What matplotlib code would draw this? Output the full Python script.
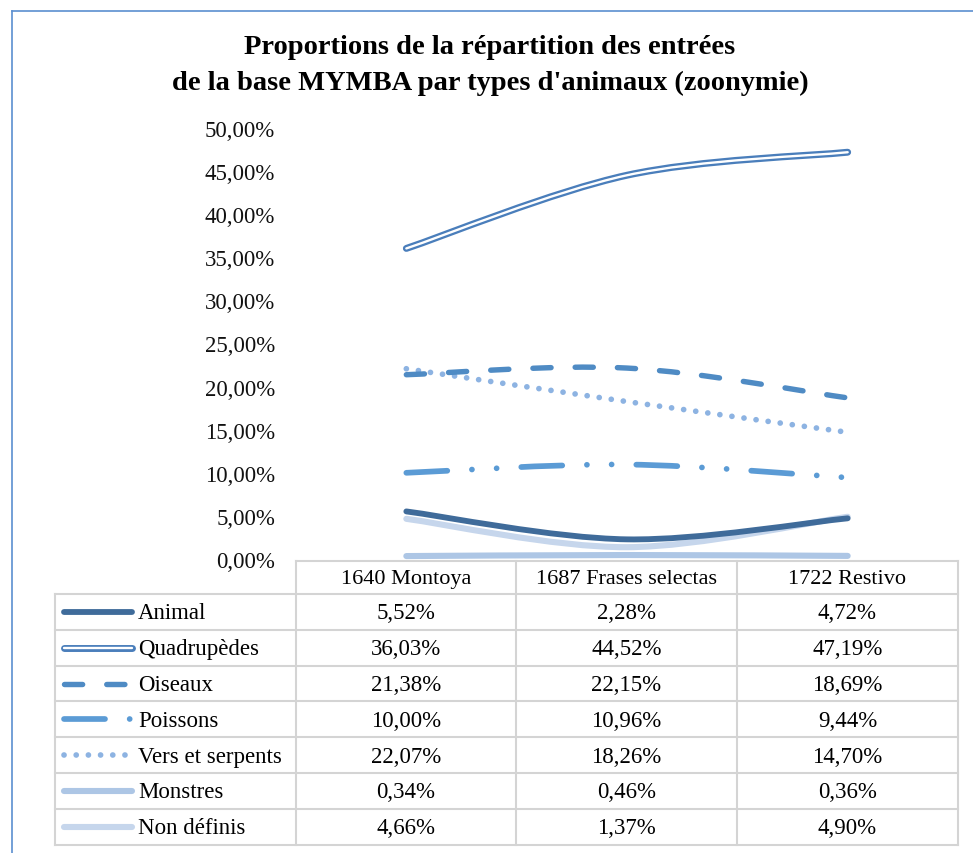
import matplotlib
matplotlib.use("Agg")
from matplotlib import pyplot as plt
from matplotlib.path import Path
from matplotlib.patches import PathPatch
from matplotlib.lines import Line2D

plt.rcParams['font.family'] = ['Liberation Serif', 'DejaVu Serif']

# données
categories = ['1640 Montoya', '1687 Frases selectas', '1722 Restivo']
series = ['Animal', 'Quadrupèdes', 'Oiseaux', 'Poissons', 'Vers et serpents', 'Monstres', 'Non définis']
animal = [5.52, 2.28, 4.72]
quadrupedes = [36.03, 44.52, 47.19]
oiseaux = [21.38, 22.15, 18.69]
poissons = [10.00, 10.96, 9.44]
vers = [22.07, 18.26, 14.70]
monstres = [0.34, 0.46, 0.36]
non_definis = [4.66, 1.37, 4.90]
yticks = [0, 5, 10, 15, 20, 25, 30, 35, 40, 45, 50]

valeurs = [animal, quadrupedes, oiseaux, poissons, vers, monstres, non_definis]

# styles (couleur, largeur, tirets)
styles = [
    dict(color='#3f6b9a', lw=4.2, ls='-'),
    dict(color='#4a7ebb', lw=5.0, ls='-'),
    dict(color='#4f8bc4', lw=3.9, ls=(0, (3.35, 4.45))),
    dict(color='#5b9bd5', lw=4.1, ls=(0, (7.2, 4.33, 0.01, 4.33, 0.01, 4.33))),
    dict(color='#8db3e2', lw=4.1, ls=(0, (0.01, 2.13))),
    dict(color='#adc6e5', lw=4.4, ls='-'),
    dict(color='#c6d6ec', lw=4.4, ls='-'),
]

W, H = 973, 854
fig = plt.figure(figsize=(W / 100, H / 100), dpi=100)


def fx(px):
    return px / W


def fy(py):
    return 1 - py / H


def pct(v):
    return ('%.2f' % v).replace('.', ',') + '%'


# cadre bleu
fig.add_artist(Line2D([fx(12), fx(12)], [fy(12), 0], color='#5b8fd0', lw=1.2))
fig.add_artist(Line2D([fx(12), 1], [fy(12), fy(12)], color='#5b8fd0', lw=1.2))

fig.text(fx(490), fy(48), "Proportions de la répartition des entrées",
         ha='center', va='center', fontsize=20.5, fontweight='bold')
fig.text(fx(490), fy(83), "de la base MYMBA par types d'animaux (zoonymie)",
         ha='center', va='center', fontsize=20.5, fontweight='bold')

# graphique
ax = fig.add_axes([fx(296), fy(560), fx(958) - fx(296), fy(129) - fy(560)])
ax.set_xlim(-0.5, 2.5)
ax.set_ylim(0, 50)
for s in ax.spines.values():
    s.set_visible(False)
ax.set_xticks([])
ax.set_yticks(yticks)
ax.set_yticklabels([pct(v) for v in yticks])
ax.tick_params(axis='y', length=0, pad=15, labelsize=16.5, labelcolor='#111111')


def courbe(vals):
    # Bézier lissée type Excel
    pts = list(zip(range(len(vals)), vals))
    verts = [pts[0]]
    codes = [Path.MOVETO]
    n = len(pts)
    for i in range(n - 1):
        p0 = pts[max(i - 1, 0)]
        p1 = pts[i]
        p2 = pts[i + 1]
        p3 = pts[min(i + 2, n - 1)]
        c1 = (p1[0] + (p2[0] - p0[0]) / 6, p1[1] + (p2[1] - p0[1]) / 6)
        c2 = (p2[0] - (p3[0] - p1[0]) / 6, p2[1] - (p3[1] - p1[1]) / 6)
        verts += [c1, c2, p2]
        codes += [Path.CURVE4] * 3
    return Path(verts, codes)


ordre = [6, 5, 0, 4, 3, 2, 1]
for k in ordre:
    st = styles[k]
    p = courbe(valeurs[k])
    ax.add_patch(PathPatch(p, fill=False, edgecolor=st['color'], lw=st['lw'], linestyle=st['ls'],
                           capstyle='round', joinstyle='round', clip_on=False))
    if k == 1:
        ax.add_patch(PathPatch(p, fill=False, edgecolor='white', lw=1.7, capstyle='round', clip_on=False))

# tableau de données
tx = fig.add_axes([0, 0, 1, 1])
tx.set_xlim(0, W)
tx.set_ylim(H, 0)
tx.axis('off')
grid = '#d4d4d4'
x_cols = [55, 296, 516, 737, 958]
y_top = 562
y_head = 595
row_h = 35.8
y_rows = [y_head + i * row_h for i in range(len(series) + 1)]

tx.plot([296, 958], [y_top, y_top], color=grid, lw=1.5)
for y in y_rows:
    tx.plot([55, 958], [y, y], color=grid, lw=1.5)
tx.plot([55, 55], [y_head, y_rows[-1]], color=grid, lw=1.5)
for x in x_cols[1:]:
    tx.plot([x, x], [y_top, y_rows[-1]], color=grid, lw=1.5)

for j, c in enumerate(categories):
    tx.text((x_cols[j + 1] + x_cols[j + 2]) / 2, (y_top + y_head) / 2 + 1, c,
            ha='center', va='center', fontsize=16)

for i, name in enumerate(series):
    yc = (y_rows[i] + y_rows[i + 1]) / 2
    st = styles[i]
    tx.add_line(Line2D([64, 132], [yc, yc], color=st['color'], lw=st['lw'], linestyle=st['ls'],
                       solid_capstyle='round', dash_capstyle='round'))
    if i == 1:
        tx.add_line(Line2D([64, 132], [yc, yc], color='white', lw=1.7, solid_capstyle='round'))
    tx.text(138, yc + 1, name, ha='left', va='center', fontsize=16.5)
    for j, v in enumerate(valeurs[i]):
        tx.text((x_cols[j + 1] + x_cols[j + 2]) / 2, yc + 1, pct(v),
                ha='center', va='center', fontsize=16.5)

fig.savefig('out.png', dpi=100)
